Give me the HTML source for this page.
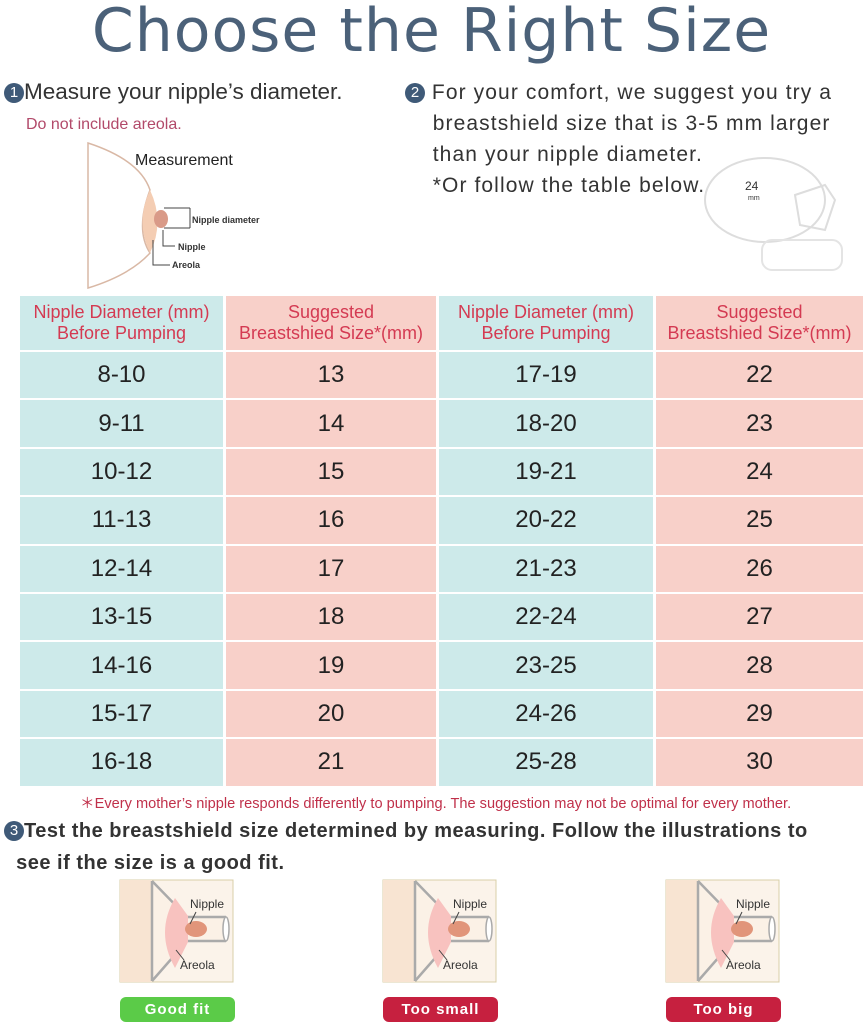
<!DOCTYPE html>
<html><head><meta charset="utf-8"><style>
*{margin:0;padding:0;box-sizing:border-box}
body{width:863px;height:1024px;background:#fff;font-family:"Liberation Sans","DejaVu Sans",sans-serif;position:relative;overflow:hidden;color:#333}
.abs{position:absolute}
.title{left:0;width:863px;top:-4px;text-align:center;font-size:60px;color:#4b6179;font-family:"DejaVu Sans",sans-serif;letter-spacing:1px}
.num{display:inline-block;width:20px;height:20px;border-radius:50%;background:#3f5a78;color:#fff;font-size:15px;text-align:center;line-height:20px;vertical-align:2px;font-weight:normal;letter-spacing:0}
.cell{position:absolute;display:flex;align-items:center;justify-content:center;text-align:center}
.t{background:#cdeaea}.p{background:#f8d0c9}
.hd{color:#d43a52;font-size:18px;line-height:21px}
.v{font-size:24px;color:#222}
.btn{position:absolute;height:25px;border-radius:6px;color:#fff;font-size:15px;font-weight:bold;text-align:center;line-height:25px;letter-spacing:1px}
</style></head><body>
<div class="abs title">Choose the Right Size</div>
<div class="abs" style="left:4px;top:79px;font-size:22.5px;color:#333"><span class="num">1</span>Measure your nipple’s diameter.</div>
<div class="abs" style="left:26px;top:116px;font-size:16px;color:#b24a6a">Do not include areola.</div>
<div class="abs" style="left:405px;top:77px;font-size:21px;line-height:31px;color:#333;letter-spacing:1.1px"><span class="num">2</span> For your comfort, we suggest you try a<br>&nbsp;&nbsp;&nbsp;&nbsp;breastshield size that is 3-5 mm larger<br>&nbsp;&nbsp;&nbsp;&nbsp;than your nipple diameter.<br>&nbsp;&nbsp;&nbsp;&nbsp;*Or follow the table below.</div>
<svg class="abs" style="left:0;top:0" width="863" height="300">
<path d="M88 143 Q140 160 150 190 Q135 230 150 253 Q130 275 88 288 Z" fill="none" stroke="#d9b8a5" stroke-width="1.5"/>
<path d="M150 190 Q135 222 150 253 Q165 222 150 190Z" fill="#f4cdb3"/>
<ellipse cx="161" cy="219" rx="7" ry="9" fill="#d99a88"/>
<path d="M164 208 H190 M164 228 H190 M190 208 V228" stroke="#444" stroke-width="1" fill="none"/>
<path d="M163 230 V246 H175 M153 240 V265 H170" stroke="#444" fill="none"/>
<text x="135" y="165" font-size="16" fill="#222" font-family="Liberation Sans">Measurement</text>
<text x="192" y="223" font-size="9" font-weight="bold" fill="#333" font-family="Liberation Sans">Nipple diameter</text>
<text x="178" y="250" font-size="9" font-weight="bold" fill="#333" font-family="Liberation Sans">Nipple</text>
<text x="172" y="268" font-size="9" font-weight="bold" fill="#333" font-family="Liberation Sans">Areola</text>
<ellipse cx="765" cy="200" rx="60" ry="42" fill="none" stroke="#ddd" stroke-width="2"/>
<rect x="762" y="240" width="80" height="30" rx="10" fill="none" stroke="#e4e4e4" stroke-width="2"/>
<path d="M795 195 L825 185 L835 200 L825 230 L800 225Z" fill="none" stroke="#ddd" stroke-width="2"/>
<text x="745" y="190" font-size="12" fill="#333" font-family="Liberation Sans">24</text>
<text x="748" y="200" font-size="7" fill="#333" font-family="Liberation Sans">mm</text>
</svg>
<div class="cell t hd" style="left:20px;top:296px;width:203px;height:54px">Nipple Diameter (mm)<br>Before Pumping</div>
<div class="cell p hd" style="left:226px;top:296px;width:210px;height:54px">Suggested<br>Breastshied Size*(mm)</div>
<div class="cell t hd" style="left:439px;top:296px;width:214px;height:54px">Nipple Diameter (mm)<br>Before Pumping</div>
<div class="cell p hd" style="left:656px;top:296px;width:207px;height:54px">Suggested<br>Breastshied Size*(mm)</div>
<div id="rows"></div>
<script>
var a=["8-10","9-11","10-12","11-13","12-14","13-15","14-16","15-17","16-18"],
b=["17-19","18-20","19-21","20-22","21-23","22-24","23-25","24-26","25-28"],h="";
for(var i=0;i<9;i++){var y=352+i*48.4;
h+='<div class="cell t v" style="left:20px;top:'+y+'px;width:203px;height:46.4px">'+a[i]+'</div>';
h+='<div class="cell p v" style="left:226px;top:'+y+'px;width:210px;height:46.4px">'+(13+i)+'</div>';
h+='<div class="cell t v" style="left:439px;top:'+y+'px;width:214px;height:46.4px">'+b[i]+'</div>';
h+='<div class="cell p v" style="left:656px;top:'+y+'px;width:207px;height:46.4px">'+(22+i)+'</div>';}
document.getElementById('rows').innerHTML=h;
</script>
<div class="abs" style="left:80px;top:792px;font-size:14.6px;color:#c0304a">＊Every mother’s nipple responds differently to pumping. The suggestion may not be optimal for every mother.</div>
<div class="abs" style="left:4px;top:815px;font-size:20px;line-height:32px;color:#333;font-weight:bold;letter-spacing:0.5px"><span class="num">3</span>Test the breastshield size determined by measuring. Follow the illustrations to<br>&nbsp;&nbsp;see if the size is a good fit.</div>
<svg class="abs" style="left:0;top:870px" width="863" height="120">
<g id="g1" transform="translate(120,10)">
<rect x="0" y="0" width="113" height="102" fill="#fbf3ea" stroke="#d8cfa8"/>
<rect x="0" y="0" width="32" height="102" fill="#f8e4d2"/>
<path d="M32 1 L67 37 L106 37 L106 61 L67 61 L32 101 Z" fill="#fbf1e6"/>
<path d="M32 1 L32 101 M32 1 L67 37 L106 37 M32 101 L67 61 L106 61" fill="none" stroke="#aaa" stroke-width="2.5"/>
<ellipse cx="106" cy="49" rx="3" ry="12" fill="#fff" stroke="#aaa" stroke-width="1.5"/>
<path d="M55 18 Q35 52 55 88 L68 62 L68 36Z" fill="#f8c2bf"/>
<ellipse cx="76" cy="49" rx="11" ry="8" fill="#e1957a"/>
<path d="M76 32 L70 44 M56 70 L64 80" stroke="#444" stroke-width="1"/>
<text x="70" y="28" font-size="12" fill="#333" font-family="Liberation Sans">Nipple</text>
<text x="60" y="89" font-size="12" fill="#333" font-family="Liberation Sans">Areola</text>
</g>
<use href="#g1" x="263"/>
<use href="#g1" x="546"/>
</svg>
<div class="btn" style="left:120px;top:997px;width:115px;background:#5bcb48">Good fit</div>
<div class="btn" style="left:383px;top:997px;width:115px;background:#c6203f">Too small</div>
<div class="btn" style="left:666px;top:997px;width:115px;background:#c6203f">Too big</div>
</body></html>
